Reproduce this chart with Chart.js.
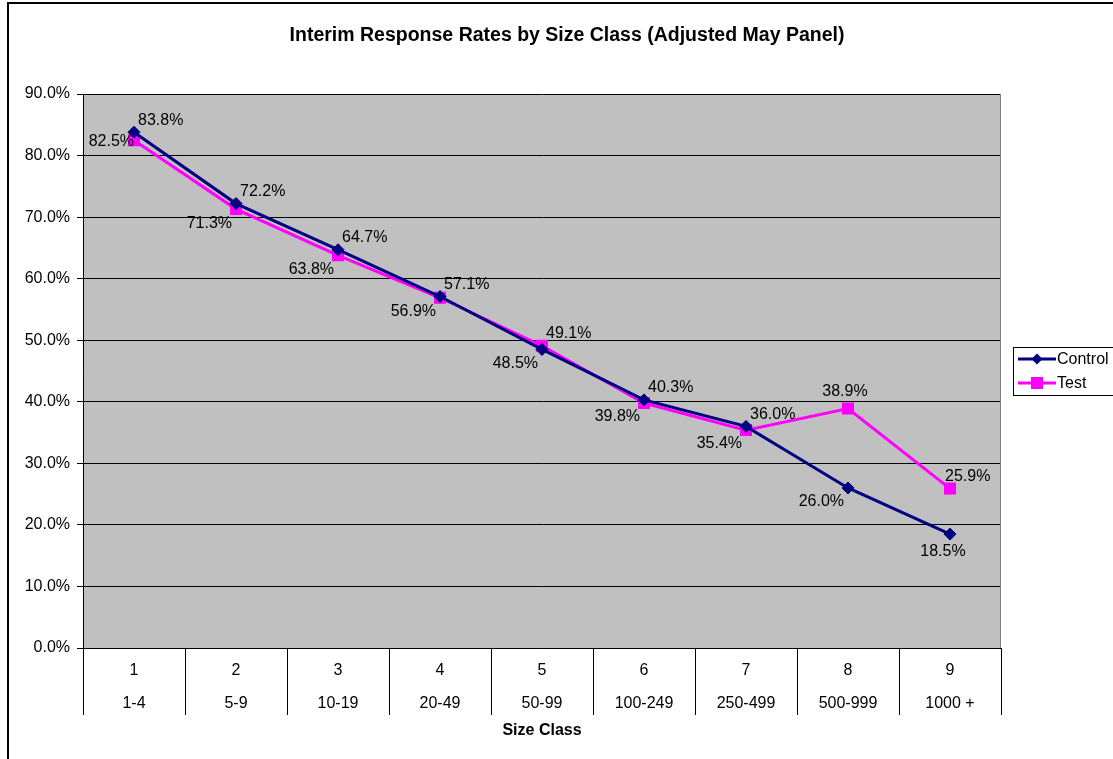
<!DOCTYPE html>
<html>
<head>
<meta charset="utf-8">
<script src="https://cdn.jsdelivr.net/npm/chart.js@4/dist/chart.umd.min.js"></script>
<style>
html,body{margin:0;padding:0;background:#fff;}
#wrap{width:1113px;height:759px;position:relative;}
</style>
</head>
<body>
<div id="wrap"><canvas id="c" width="1113" height="759"></canvas></div>
<script>
// ---- data ----
const sizeNums = ['1','2','3','4','5','6','7','8','9'];
const sizeRanges = ['1-4','5-9','10-19','20-49','50-99','100-249','250-499','500-999','1000 +'];
const controlValues = [83.8, 72.2, 64.7, 57.1, 48.5, 40.3, 36.0, 26.0, 18.5];
const testValues = [82.5, 71.3, 63.8, 56.9, 49.1, 39.8, 35.4, 38.9, 25.9];
const yTicks = [0,10,20,30,40,50,60,70,80,90];
const chartTitle = 'Interim Response Rates by Size Class (Adjusted May Panel)';
const xTitle = 'Size Class';
const seriesNames = ['Control','Test'];

// label placement (style)
const controlPos = ['ur','ur','ur','ur','ll','ur','ur','ll','b'];
const testPos = ['l','ll','ll','ll','ur','ll','ll','t','ur2'];

const FONT = 'Arial, "Liberation Sans", sans-serif';

const decorPlugin = {
  id: 'decor',
  beforeDraw(chart) {
    const {ctx, chartArea: a} = chart;
    ctx.save();
    ctx.fillStyle = '#fff';
    ctx.fillRect(0,0,chart.width,chart.height);
    ctx.fillStyle = '#C0C0C0';
    ctx.fillRect(a.left, a.top, a.right - a.left, a.bottom - a.top);
    ctx.restore();
  },
  afterDraw(chart) {
    const {ctx, chartArea: a} = chart;
    const xs = chart.scales.x;
    ctx.save();
    // outer border
    ctx.strokeStyle = '#000';
    ctx.lineWidth = 2;
    ctx.strokeRect(8, 3, 1300, 1000);
    // plot right border
    ctx.strokeStyle = '#808080';
    ctx.lineWidth = 1;
    ctx.beginPath();
    ctx.moveTo(a.right - 0.5, a.top);
    ctx.lineTo(a.right - 0.5, a.bottom);
    ctx.stroke();
    // category separators
    ctx.strokeStyle = '#000';
    ctx.lineWidth = 1;
    const n = sizeNums.length;
    const w = (a.right - a.left) / n;
    for (let i = 0; i <= n; i++) {
      const x = Math.round(a.left + i * w) + 0.5;
      ctx.beginPath();
      ctx.moveTo(x, a.bottom);
      ctx.lineTo(x, a.bottom + 67);
      ctx.stroke();
    }
    // category labels
    ctx.fillStyle = '#000';
    ctx.font = '16px ' + FONT;
    ctx.textAlign = 'center';
    ctx.textBaseline = 'middle';
    for (let i = 0; i < n; i++) {
      const x = xs.getPixelForValue(i);
      ctx.fillText(sizeNums[i], x, a.bottom + 23);
      ctx.fillText(sizeRanges[i], x, a.bottom + 56);
    }
    // axis title
    ctx.font = 'bold 16px ' + FONT;
    ctx.fillText(xTitle, (a.left + a.right) / 2, 731);
    // chart title
    ctx.font = 'bold 19.5px ' + FONT;
    ctx.fillText(chartTitle, 567, 36);

    // data labels
    ctx.font = '16px ' + FONT;
    const drawLabels = (dsIndex, pos) => {
      const meta = chart.getDatasetMeta(dsIndex);
      const vals = chart.data.datasets[dsIndex].data;
      meta.data.forEach((pt, i) => {
        const t = vals[i].toFixed(1) + '%';
        const p = pos[i];
        let x = pt.x, y = pt.y;
        if (p === 'ur') { ctx.textAlign = 'left'; x += 4; y -= 12; }
        else if (p === 'ur2') { ctx.textAlign = 'left'; x -= 5; y -= 12; }
        else if (p === 'll') { ctx.textAlign = 'right'; x -= 4; y += 14; }
        else if (p === 'l') { ctx.textAlign = 'right'; x += 0; y += 1; }
        else if (p === 't') { ctx.textAlign = 'center'; x -= 3; y -= 17; }
        else if (p === 'b') { ctx.textAlign = 'center'; x -= 7; y += 17; }
        ctx.fillText(t, x, y);
      });
    };
    drawLabels(0, controlPos);
    drawLabels(1, testPos);

    // legend
    ctx.strokeStyle = '#000';
    ctx.lineWidth = 1;
    ctx.fillStyle = '#fff';
    ctx.fillRect(1013.5, 347.5, 200, 48);
    ctx.strokeRect(1013.5, 347.5, 200, 48);
    const ds = chart.data.datasets;
    const ly = [359, 383];
    for (let k = 0; k < 2; k++) {
      const y = ly[k];
      ctx.strokeStyle = ds[k].borderColor;
      ctx.lineWidth = 3;
      ctx.beginPath();
      ctx.moveTo(1018, y);
      ctx.lineTo(1056, y);
      ctx.stroke();
      ctx.fillStyle = ds[k].pointBackgroundColor;
      if (k === 0) {
        ctx.beginPath();
        ctx.moveTo(1037, y - 5.5);
        ctx.lineTo(1042.5, y);
        ctx.lineTo(1037, y + 5.5);
        ctx.lineTo(1031.5, y);
        ctx.closePath();
        ctx.fill();
      } else {
        ctx.fillRect(1031, y - 6, 12, 12);
      }
      ctx.fillStyle = '#000';
      ctx.textAlign = 'left';
      ctx.font = '16px ' + FONT;
      ctx.fillText(seriesNames[k], 1057, y + 1);
    }
    ctx.restore();
  }
};

new Chart(document.getElementById('c'), {
  type: 'line',
  data: {
    labels: sizeNums,
    datasets: [
      {
        label: seriesNames[0],
        data: controlValues,
        borderColor: '#000080',
        backgroundColor: '#000080',
        pointBackgroundColor: '#000080',
        pointBorderColor: '#000080',
        borderWidth: 3,
        pointStyle: 'rectRot',
        pointRadius: 6,
        pointBorderWidth: 1,
        tension: 0
      },
      {
        label: seriesNames[1],
        data: testValues,
        borderColor: '#FF00FF',
        backgroundColor: '#FF00FF',
        pointBackgroundColor: '#FF00FF',
        pointBorderColor: '#FF00FF',
        borderWidth: 3,
        pointStyle: 'rect',
        pointRadius: 8.5,
        pointBorderWidth: 0,
        tension: 0
      }
    ]
  },
  options: {
    responsive: false,
    animation: false,
    events: [],
    layout: { padding: { left: 0, top: 94, right: 112, bottom: 0 } },
    plugins: { legend: { display: false }, title: { display: false }, tooltip: { enabled: false } },
    scales: {
      x: {
        type: 'category',
        offset: true,
        grid: { display: false, drawTicks: false },
        border: { display: true, color: '#000', width: 1 },
        ticks: { display: false },
        afterFit(s) { s.height = 111; }
      },
      y: {
        min: 0, max: 90,
        afterBuildTicks(s) { s.ticks = yTicks.map(v => ({ value: v })); },
        grid: { color: '#000', lineWidth: 1, tickLength: 6, tickColor: '#000' },
        border: { display: true, color: '#000', width: 1 },
        ticks: {
          padding: 7,
          color: '#000',
          font: { family: FONT, size: 16 },
          callback: v => v.toFixed(1) + '%'
        },
        afterFit(s) { s.width = 83; }
      }
    }
  },
  plugins: [decorPlugin]
});
</script>
</body>
</html>
